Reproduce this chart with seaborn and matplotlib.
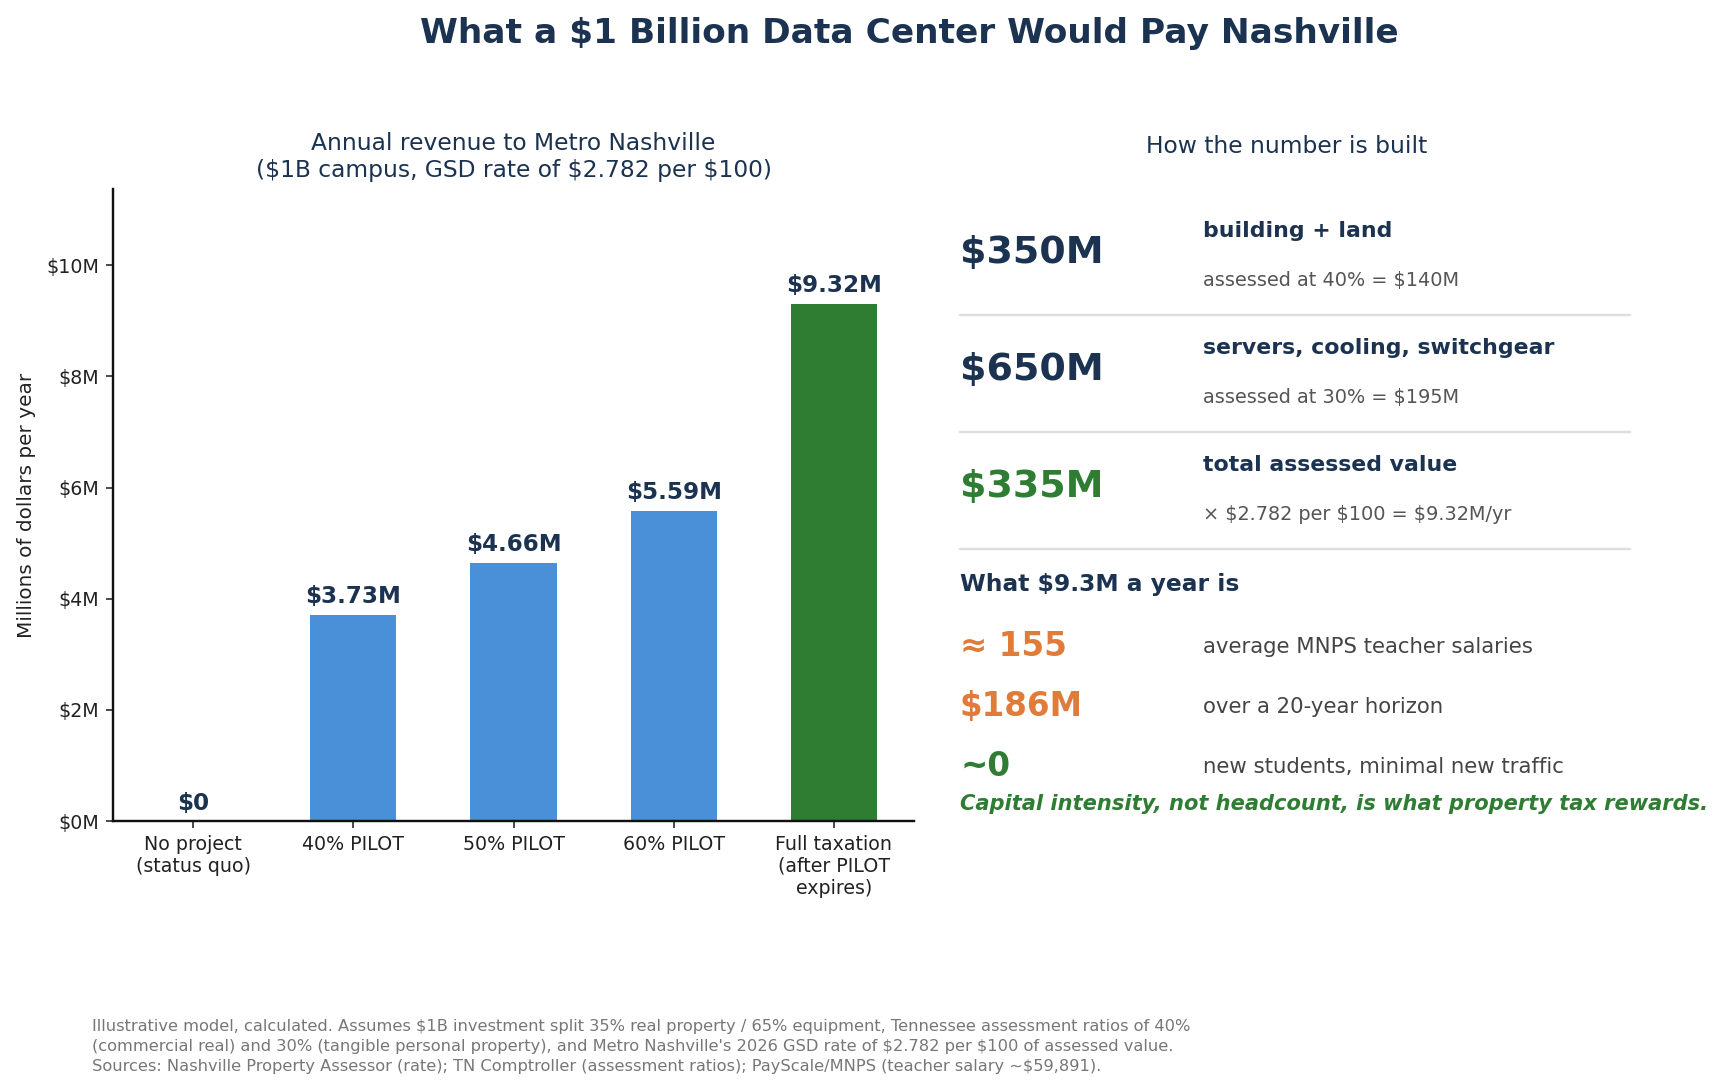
import matplotlib
matplotlib.use("Agg")
import matplotlib.pyplot as plt
from matplotlib.lines import Line2D
from matplotlib.ticker import FuncFormatter
import pandas as pd
import seaborn as sns

# ---- data ----
scenarios = ["No project\n(status quo)", "40% PILOT", "50% PILOT", "60% PILOT",
             "Full taxation\n(after PILOT\nexpires)"]
revenue = [0.0, 3.73, 4.66, 5.59, 9.32]
bar_labels = ["$0", "$3.73M", "$4.66M", "$5.59M", "$9.32M"]
y_ticks = [0, 2, 4, 6, 8, 10]

build_values = ["$350M", "$650M", "$335M"]
build_titles = ["building + land", "servers, cooling, switchgear", "total assessed value"]
build_details = ["assessed at 40% = $140M", "assessed at 30% = $195M",
                 "\u00d7 $2.782 per $100 = $9.32M/yr"]

equiv_values = ["\u2248 155", "$186M", "~0"]
equiv_texts = ["average MNPS teacher salaries", "over a 20-year horizon",
               "new students, minimal new traffic"]

title = "What a $1 Billion Data Center Would Pay Nashville"
subtitle = "Annual revenue to Metro Nashville\n($1B campus, GSD rate of $2.782 per $100)"
panel_title = "How the number is built"
equiv_heading = "What $9.3M a year is"
takeaway = "Capital intensity, not headcount, is what property tax rewards."
footer = ("Illustrative model, calculated. Assumes $1B investment split 35% real property / 65% equipment, "
          "Tennessee assessment ratios of 40%\n"
          "(commercial real) and 30% (tangible personal property), and Metro Nashville's 2026 GSD rate of "
          "$2.782 per $100 of assessed value.\n"
          "Sources: Nashville Property Assessor (rate); TN Comptroller (assessment ratios); "
          "PayScale/MNPS (teacher salary ~$59,891).")

# ---- styles ----
NAVY = "#1b3350"
BLUE = "#4a90d9"
GREEN = "#2e7d32"
ORANGE = "#e07b39"
bar_palette = [BLUE, BLUE, BLUE, BLUE, GREEN]
build_colors = [NAVY, NAVY, GREEN]
equiv_colors = [ORANGE, ORANGE, GREEN]

sns.set_style("ticks")
plt.rcParams['font.family'] = ['DejaVu Sans']
plt.rcParams['text.parse_math'] = False

W, H = 1728, 1089


def fx(p):
    return p / W


def fy(p):
    return 1 - p / H


fig = plt.figure(figsize=(12, 7.5625), dpi=144)
fig.text(fx(909), fy(43), title, ha="center", va="baseline",
         fontsize=17.2, fontweight="bold", color=NAVY)

# ---- left: bar chart ----
ax = fig.add_axes([fx(113), fy(821), fx(914) - fx(113), fy(189) - fy(821)])
df = pd.DataFrame({"scenario": scenarios, "revenue": revenue})
sns.barplot(data=df, x="scenario", y="revenue", hue="scenario", palette=bar_palette,
            width=0.55, legend=False, saturation=1, ax=ax)
ax.set_ylim(0, max(revenue) * 1.22)
ax.set_yticks(y_ticks)
ax.yaxis.set_major_formatter(FuncFormatter(lambda v, _: f"${v:.0f}M"))
ax.tick_params(axis="both", labelsize=9.5, colors="#222222")
ax.set_xlabel("")
ax.set_ylabel("Millions of dollars per year", fontsize=10, color="#222222", labelpad=5)
ax.set_title(subtitle, fontsize=11.7, color=NAVY)
for i, (v, lab) in enumerate(zip(revenue, bar_labels)):
    ax.annotate(lab, (i, v), xytext=(0, 3), textcoords="offset points",
                ha="center", va="bottom", fontsize=11.5, fontweight="bold", color=NAVY)
sns.despine(ax=ax)
for sp in ["left", "bottom"]:
    ax.spines[sp].set_color("#111111")
    ax.spines[sp].set_linewidth(1.2)

# ---- right: how the number is built ----
fig.text(fx(1287), fy(153), panel_title, ha="center", va="baseline",
         fontsize=11.7, color=NAVY)
for i in range(len(build_values)):
    off = i * 117
    fig.text(fx(960), fy(263 + off), build_values[i], va="baseline",
             fontsize=19, fontweight="bold", color=build_colors[i])
    fig.text(fx(1203), fy(237 + off), build_titles[i], va="baseline",
             fontsize=11, fontweight="bold", color=NAVY)
    fig.text(fx(1203), fy(286 + off), build_details[i], va="baseline",
             fontsize=9.6, color="#555555")
    fig.add_artist(Line2D([fx(960), fx(1630)], [fy(315 + off)] * 2,
                          color="#dddddd", lw=1.2))

fig.text(fx(960), fy(591), equiv_heading, va="baseline",
         fontsize=11.7, fontweight="bold", color=NAVY)
for i in range(len(equiv_values)):
    fig.text(fx(960), fy(656 + i * 60), equiv_values[i], va="baseline",
             fontsize=16.3, fontweight="bold", color=equiv_colors[i])
    fig.text(fx(1203), fy(653 + i * 60), equiv_texts[i], va="baseline",
             fontsize=10.6, color="#444444")
fig.text(fx(960), fy(810), takeaway, va="baseline", fontsize=10.5,
         fontweight="bold", fontstyle="italic", color=GREEN)

fig.text(fx(92), fy(1071), footer, va="baseline", fontsize=8.1,
         color="#777777", linespacing=1.43)

fig.savefig("out.png", dpi=144)
